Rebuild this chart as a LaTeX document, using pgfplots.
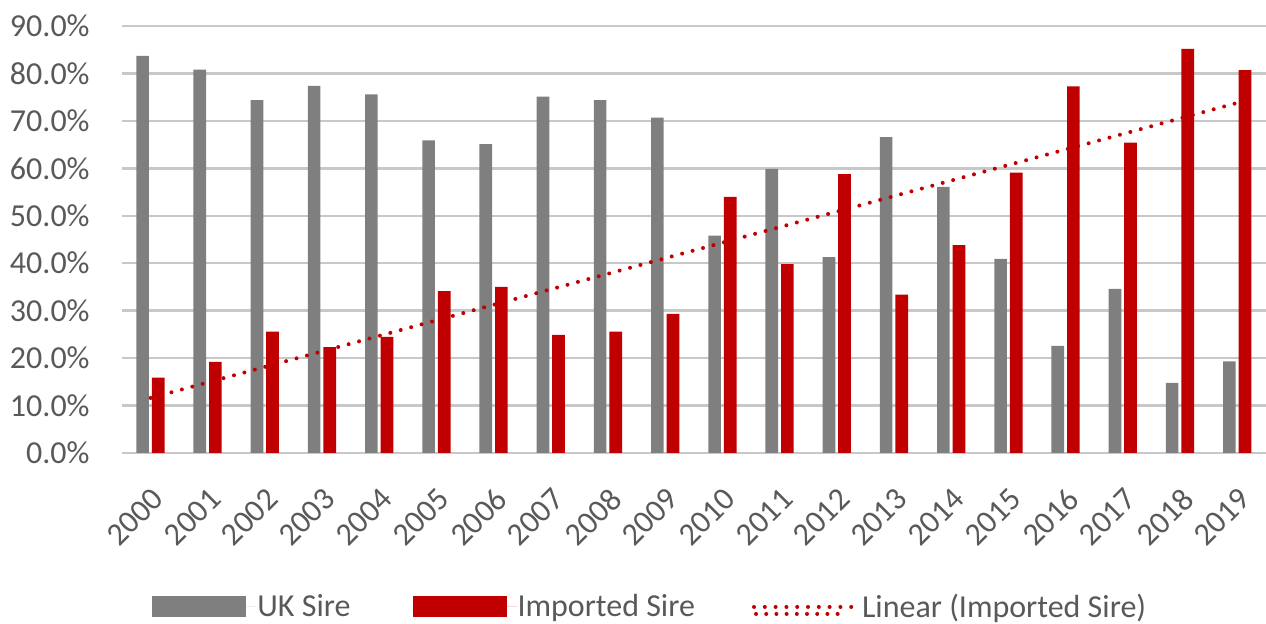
\documentclass[border=0pt]{standalone}
\usepackage{pgfplots}
\pgfplotsset{compat=1.18}
\usepackage{fontspec}
\setmainfont{Carlito}

\definecolor{ukgray}{HTML}{7F7F7F}
\definecolor{impred}{HTML}{C00000}
\definecolor{txtgray}{HTML}{595959}
\definecolor{gridgray}{HTML}{C8C8C8}

\begin{document}
\begin{tikzpicture}
\path[use as bounding box] (0,0) rectangle (633pt,312pt);
\begin{axis}[
  at={(61pt,85.5pt)}, anchor=south west,
  scale only axis, width=572pt, height=213.5pt,
  xmin=-0.5, xmax=19.5, ymin=0, ymax=90,
  xtick={0,...,19},
  xticklabels={2000,2001,2002,2003,2004,2005,2006,2007,2008,2009,
               2010,2011,2012,2013,2014,2015,2016,2017,2018,2019},
  ytick={0,10,...,90},
  yticklabels={0.0\%,10.0\%,20.0\%,30.0\%,40.0\%,50.0\%,60.0\%,70.0\%,80.0\%,90.0\%},
  ymajorgrids, grid style={gridgray, line width=1.2pt},
  axis line style={draw=none},
  major tick length=0pt,
  tick label style={font=\fontsize{16}{19}\selectfont, text=txtgray},
  yticklabel style={inner sep=0pt, xshift=-16pt},
  xticklabel style={rotate=45, anchor=north east, inner sep=0pt},
  xticklabel shift=16.5pt,
  legend columns=3,
  legend style={at={(0.021,-0.3606)}, anchor=west, draw=none, fill=none,
    column sep=0pt, nodes={inner sep=0pt},
    font=\fontsize{16}{19}\selectfont, text=txtgray},
]
% UK-sired share per year
\addplot[ybar, bar width=6.3pt, bar shift=-4pt, fill=ukgray, draw=none,
  legend image code/.code={\fill[ukgray] (0pt,-5pt) rectangle (47pt,5.5pt);
    \path (0pt,0pt) -- (52.5pt,0pt);}]
  coordinates {(0,83.7) (1,80.8) (2,74.4) (3,77.4) (4,75.6) (5,65.9) (6,65.1)
    (7,75.1) (8,74.4) (9,70.7) (10,45.8) (11,59.9) (12,41.3) (13,66.6)
    (14,56.1) (15,40.9) (16,22.6) (17,34.6) (18,14.8) (19,19.3)};
\addlegendentry{UK Sire\hspace*{31pt}}
% imported-sire share per year
\addplot[ybar, bar width=6.35pt, bar shift=3.8pt, fill=impred, draw=none,
  legend image code/.code={\fill[impred] (0pt,-5pt) rectangle (47pt,5.5pt);
    \path (0pt,0pt) -- (52.5pt,0pt);}]
  coordinates {(0,15.9) (1,19.2) (2,25.6) (3,22.3) (4,24.5) (5,34.1) (6,35.0)
    (7,24.9) (8,25.6) (9,29.3) (10,54.0) (11,39.8) (12,58.8) (13,33.4)
    (14,43.8) (15,59.1) (16,77.3) (17,65.4) (18,85.2) (19,80.7)};
\addlegendentry{Imported Sire\hspace*{28.5pt}}
% least-squares trend of the imported share
\addplot[impred, line width=2pt, line cap=round, dash pattern=on 0pt off 5.4pt,
  legend image code/.code={\draw[impred, line width=2pt, line cap=round,
    dash pattern=on 0pt off 5.1pt] (1pt,-3.5pt) -- (46pt,-3.5pt);
    \path (0pt,0pt) -- (53pt,0pt);}]
  coordinates {(0,11.6) (19,73.8)};
\addlegendentry{Linear (Imported Sire)}
\end{axis}
\end{tikzpicture}
\end{document}
